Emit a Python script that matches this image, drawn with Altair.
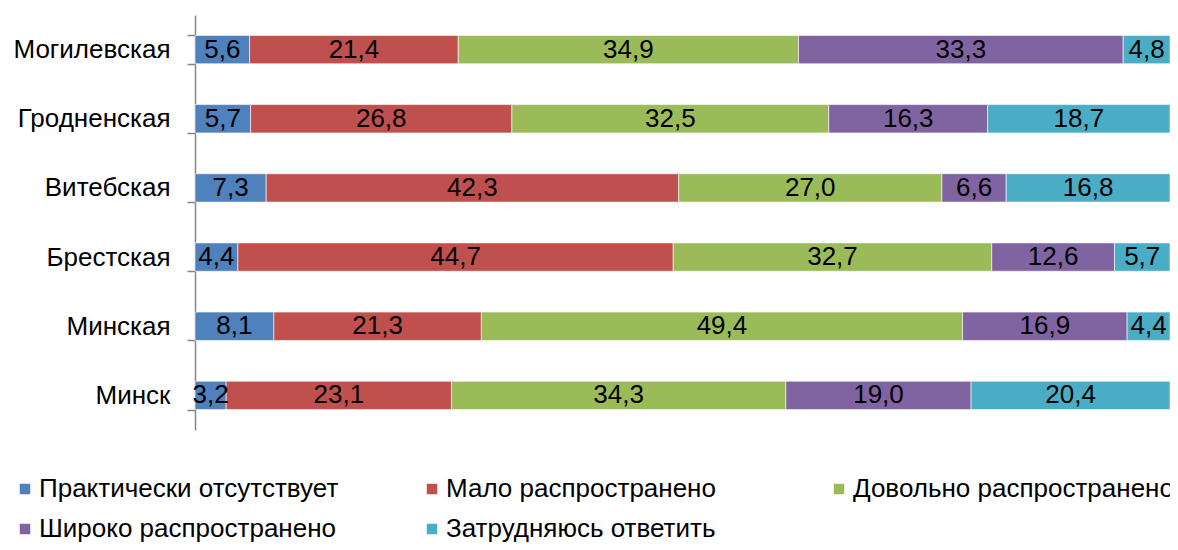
import altair as alt
import pandas as pd

regions = ["Могилевская", "Гродненская", "Витебская", "Брестская", "Минская", "Минск"]
series = ["Практически отсутствует", "Мало распространено", "Довольно распространено",
          "Широко распространено", "Затрудняюсь ответить"]
colors = ["#4F81BD", "#C0504D", "#9BBB59", "#8064A2", "#4BACC6"]

prakt = [5.6, 5.7, 7.3, 4.4, 8.1, 3.2]
malo = [21.4, 26.8, 42.3, 44.7, 21.3, 23.1]
dovol = [34.9, 32.5, 27.0, 32.7, 49.4, 34.3]
shiroko = [33.3, 16.3, 6.6, 12.6, 16.9, 19.0]
zatr = [4.8, 18.7, 16.8, 5.7, 4.4, 20.4]

rows = []
for si, (name, vals) in enumerate(zip(series, [prakt, malo, dovol, shiroko, zatr])):
    for r, v in zip(regions, vals):
        rows.append({"region": r, "series": name, "ord": si, "v": v})
df = pd.DataFrame(rows)

FONT = "Liberation Sans"

base = alt.Chart(df).transform_stack(
    stack="v", groupby=["region"], as_=["x0", "x1"],
    sort=[alt.SortField("ord", order="ascending")], offset="normalize"
).transform_calculate(
    mid="(datum.x0 + datum.x1) / 2",
    lab="replace(format(datum.v, '.1f'), '.', ',')"
)

yenc = alt.Y("region:N", sort=regions, title=None,
             scale=alt.Scale(paddingInner=0.59, paddingOuter=0.295),
             axis=alt.Axis(tickBand="extent", tickSize=8, tickColor="#868686",
                           domainColor="#868686", domainWidth=1.5, tickWidth=1.5,
                           labelFont=FONT, labelFontSize=26, labelColor="#000000",
                           labelPadding=17))

bars = base.mark_bar(stroke="white", strokeWidth=0.6).encode(
    x=alt.X("x0:Q", scale=alt.Scale(domain=[0, 1]), axis=None),
    x2="x1:Q",
    y=yenc,
    color=alt.Color("series:N", scale=alt.Scale(domain=series, range=colors),
                    legend=alt.Legend(title=None, orient="none", legendX=-183, legendY=461,
                                      columns=3, gridAlign="all", columnPadding=59,
                                      rowPadding=14, symbolType="square", symbolSize=110,
                                      symbolStrokeWidth=0, labelFont=FONT, labelFontSize=26,
                                      labelColor="#000000", labelOffset=1, labelLimit=500,
                                      direction="horizontal")),
)

texts = base.mark_text(font=FONT, fontSize=26, color="#000000", baseline="middle").encode(
    x=alt.X("mid:Q", scale=alt.Scale(domain=[0, 1]), axis=None),
    y=alt.Y("region:N", sort=regions),
    text="lab:N",
)

chart = alt.layer(bars, texts).properties(
    width=975, height=415,
    autosize=alt.AutoSizeParams(type="none"),
    padding={"left": 187, "top": 7, "right": 0, "bottom": 112},
).configure_view(stroke=None)

chart.save("out.html", embed_options={"renderer": "svg", "actions": False})
